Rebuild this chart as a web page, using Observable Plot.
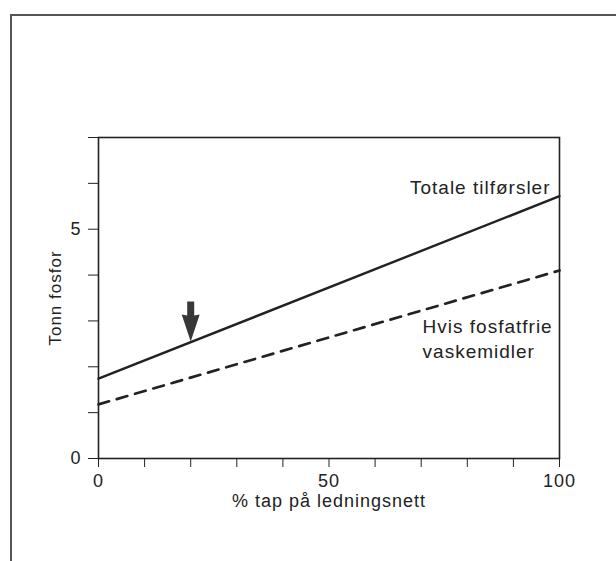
<!DOCTYPE html>
<html>
<head>
<meta charset="utf-8">
<script src="https://cdn.jsdelivr.net/npm/d3@7"></script>
<script src="https://cdn.jsdelivr.net/npm/@observablehq/plot@0.6"></script>
<style>
  html, body { margin: 0; padding: 0; background: #fff; }
  body { width: 616px; height: 561px; position: relative; overflow: hidden; }
  #sheet { position: absolute; left: 10px; top: 14px; width: 700px; height: 700px;
           border-left: 2px solid #555; border-top: 2px solid #555; }
  #chart { position: absolute; left: 0; top: 0; }
  #chart svg { font-family: "Liberation Sans", Arial, sans-serif; font-size: 18px;
               letter-spacing: 1px; color: #222; }
</style>
</head>
<body>
<div id="sheet"></div>
<div id="chart"></div>
<script>
// Data
const lossPct = [0, 100];                 // % tap på ledningsnett
const totalTons = [1.74, 5.72];           // Totale tilførsler
const phosphateFreeTons = [1.18, 4.10];   // Hvis fosfatfrie vaskemidler
const arrowAt = [{x: 20, y: 2.55}];       // marked current loss level

const xTicks = [0, 10, 20, 30, 40, 50, 60, 70, 80, 90, 100];
const xTickLabels = [0, 50, 100];
const yTicks = [0, 1, 2, 3, 4, 5, 6, 7];
const yTickLabels = [0, 5];

const totalLabel = "Totale tilførsler";
const freeLabel = "Hvis fosfatfrie\nvaskemidler";
const xTitle = "% tap på ledningsnett";
const yTitle = "Tonn fosfor";

const totalData = lossPct.map((x, i) => ({x, y: totalTons[i]}));
const freeData = lossPct.map((x, i) => ({x, y: phosphateFreeTons[i]}));

const arrowSymbol = {
  draw(ctx) {
    ctx.moveTo(0, 0);
    ctx.lineTo(-9, -27);
    ctx.lineTo(-3.5, -26);
    ctx.lineTo(-3.5, -40);
    ctx.lineTo(3.5, -40);
    ctx.lineTo(3.5, -26);
    ctx.lineTo(9, -27);
    ctx.closePath();
  }
};

const chart = Plot.plot({
  width: 616,
  height: 561,
  marginLeft: 98,
  marginRight: 57,
  marginTop: 137,
  marginBottom: 103,
  x: {domain: [0, 100]},
  y: {domain: [0, 7]},
  marks: [
    Plot.frame({stroke: "#222", strokeWidth: 1.6}),
    Plot.axisX({
      ticks: xTicks, tickSize: 9, tickPadding: 7, label: null,
      tickFormat: d => xTickLabels.includes(d) ? String(d) : ""
    }),
    Plot.axisY({
      ticks: yTicks, tickSize: 10, tickPadding: 7, label: null,
      tickFormat: d => yTickLabels.includes(d) ? String(d) : ""
    }),
    Plot.line(totalData, {x: "x", y: "y", stroke: "#222", strokeWidth: 2.4}),
    Plot.line(freeData, {x: "x", y: "y", stroke: "#222", strokeWidth: 2.7,
      strokeDasharray: "11,8", strokeLinecap: "round"}),
    Plot.dot(arrowAt, {x: "x", y: "y", symbol: arrowSymbol, fill: "#383838", stroke: "none"}),
    Plot.text([totalData[1]], {x: "x", y: "y", text: () => totalLabel,
      textAnchor: "end", dx: -9, dy: -8, fontSize: 19, fill: "#222"}),
    Plot.text([{x: 70.3, y: 2.63}], {x: "x", y: "y", text: () => freeLabel,
      textAnchor: "start", lineAnchor: "middle", lineHeight: 1.32, fontSize: 19, fill: "#222"}),
    Plot.text([xTitle], {frameAnchor: "bottom", textAnchor: "middle", lineAnchor: "middle",
      dy: 43, fontSize: 18, fill: "#222"}),
    Plot.text([yTitle], {frameAnchor: "left", textAnchor: "middle", lineAnchor: "middle",
      dx: -43, rotate: -90, fontSize: 17, fill: "#222"})
  ]
});
document.getElementById("chart").appendChild(chart);
</script>
</body>
</html>
